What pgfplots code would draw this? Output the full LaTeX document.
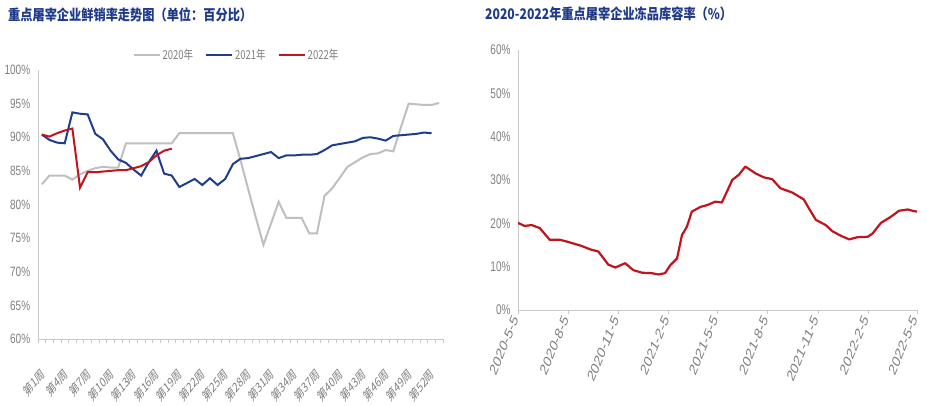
\documentclass[border=0pt]{standalone}
\usepackage{fontspec}
\setmainfont{Liberation Sans}
\newfontfamily\cjk{Noto Sans CJK SC}
\usepackage{pgfplots}
\pgfplotsset{compat=1.18}

\definecolor{titleblue}{RGB}{31,58,138}
\definecolor{c2020}{RGB}{191,191,191}
\definecolor{c2021}{RGB}{31,61,138}
\definecolor{c2022}{RGB}{192,20,30}
\definecolor{ticktext}{RGB}{128,128,128}
\definecolor{axisgray}{RGB}{200,200,200}

% fresh-sale rate by week
\pgfplotstableread{
w v
1 83.0
2 84.3
3 84.3
4 84.3
5 83.7
6 84.5
7 85.0
8 85.4
9 85.6
10 85.5
11 85.5
12 89.1
13 89.1
14 89.1
15 89.1
16 89.1
17 89.1
18 89.1
19 90.6
20 90.6
21 90.6
22 90.6
23 90.6
24 90.6
25 90.6
26 90.6
27 86.6
28 82.3
29 78.1
30 74.0
31 77.2
32 80.4
33 78.0
34 78.0
35 78.0
36 75.7
37 75.7
38 81.3
39 82.4
40 84.0
41 85.6
42 86.3
43 87.0
44 87.5
45 87.6
46 88.1
47 87.9
48 91.5
49 95.0
50 94.9
51 94.8
52 94.8
53 95.1
}\yrtwenty

\pgfplotstableread{
w v
1 90.4
2 89.6
3 89.2
4 89.1
5 93.7
6 93.5
7 93.4
8 90.5
9 89.7
10 88.0
11 86.7
12 86.2
13 85.2
14 84.3
15 86.3
16 88.0
17 84.6
18 84.3
19 82.6
20 83.2
21 83.8
22 82.9
23 83.9
24 82.9
25 83.8
26 86.0
27 86.8
28 86.9
29 87.2
30 87.5
31 87.8
32 86.9
33 87.3
34 87.3
35 87.4
36 87.4
37 87.5
38 88.1
39 88.8
40 89.0
41 89.2
42 89.4
43 89.9
44 90.0
45 89.8
46 89.5
47 90.2
48 90.3
49 90.4
50 90.5
51 90.7
52 90.6
}\yrtwentyone

\pgfplotstableread{
w v
1 90.4
2 90.1
3 90.6
4 91.0
5 91.3
6 82.5
7 84.8
8 84.8
9 84.9
10 85.0
11 85.1
12 85.1
13 85.4
14 85.7
15 86.3
16 87.3
17 88.0
18 88.3
}\yrtwentytwo

% frozen storage rate, days since 2020-5-5
\pgfplotstableread{
d v
0 20.1
12 19.4
25 19.6
40 18.9
58 16.2
77 16.2
92 15.7
116 14.8
132 14.0
147 13.5
165 10.5
178 9.8
196 10.8
211 9.2
227 8.6
245 8.5
257 8.2
269 8.5
279 10.4
291 11.9
300 17.3
309 19.2
318 22.7
334 23.8
346 24.2
361 25.0
373 24.8
392 30.0
404 31.2
416 33.1
435 31.5
450 30.6
465 30.2
480 28.1
502 27.1
523 25.5
532 23.5
545 20.8
563 19.6
575 18.2
591 17.1
606 16.3
621 16.8
640 16.9
649 17.7
664 20.1
682 21.5
697 22.9
713 23.2
722 22.9
730 22.7
}\frozen

\begin{document}
\begin{tikzpicture}[x=1pt,y=1pt]
\useasboundingbox (0,0) rectangle (927,405);
\fill[white] (0,0) rectangle (927,405);

\node[anchor=west,inner sep=0,yscale=1.2,text=titleblue,font=\cjk\bfseries\fontsize{12.2}{14}\selectfont] at (8,390) {重点屠宰企业鲜销率走势图（单位：百分比）};
\node[anchor=west,inner sep=0,yscale=1.2,text=titleblue,font=\cjk\bfseries\fontsize{12.2}{14}\selectfont] at (485,391) {2020-2022年重点屠宰企业冻品库容率（\%）};

\begin{axis}[
  at={(38pt,66pt)}, anchor=south west,
  scale only axis, width=405pt, height=269pt,
  xmin=0.5, xmax=53.5, ymin=60, ymax=100,
  axis x line*=bottom, axis y line*=left,
  axis line style={draw=axisgray, line width=0.8pt},
  ytick={60,65,...,100},
  yticklabel={\pgfmathprintnumber{\tick}\%},
  /pgf/number format/assume math mode=true,
  y tick label style={text=ticktext, font=\fontsize{10}{12}\selectfont, yscale=1.35},
  ytick style={draw=none},
  xtick={1,4,...,52},
  xticklabels={第1周,第4周,第7周,第10周,第13周,第16周,第19周,第22周,第25周,第28周,第31周,第34周,第37周,第40周,第43周,第46周,第49周,第52周},
  x tick label style={text=ticktext, font=\cjk\fontsize{9.5}{11}\selectfont, yshift=-27pt, xshift=2pt, yscale=1.4, rotate=42, anchor=east, inner sep=1pt},
  major x tick style={draw=none},
  minor xtick={0.5,1.5,...,53.5},
  minor x tick style={draw=axisgray, line width=0.8pt},
  minor tick length=4pt, tick align=outside,
  legend columns=3,
  legend style={at={(axis description cs:0.49,1.056)}, anchor=center, draw=none, fill=none,
    font=\cjk\fontsize{9.5}{12}\selectfont, text=ticktext,
    nodes={yscale=1.3},
    /tikz/every even column/.append style={column sep=10pt}},
  legend image code/.code={\draw[#1] (0pt,0pt) -- (26pt,0pt);},
]
\addplot[c2020, line width=2pt] table[x=w,y=v] {\yrtwenty};
\addlegendentry{2020年}
\addplot[c2021, line width=2pt] table[x=w,y=v] {\yrtwentyone};
\addlegendentry{2021年}
\addplot[c2022, line width=2pt] table[x=w,y=v] {\yrtwentytwo};
\addlegendentry{2022年}
\end{axis}

\begin{axis}[
  at={(518pt,95pt)}, anchor=south west,
  scale only axis, width=399pt, height=260pt,
  xmin=0, xmax=730, ymin=0, ymax=60,
  axis x line*=bottom, axis y line*=left,
  axis line style={draw=axisgray, line width=0.8pt},
  ytick={0,10,...,60},
  yticklabel={\pgfmathprintnumber{\tick}\%},
  /pgf/number format/assume math mode=true,
  y tick label style={text=ticktext, font=\fontsize{10}{12}\selectfont, yscale=1.4},
  ytick style={draw=none},
  xtick={0,92,184,276,365,457,549,641,730},
  xticklabels={2020-5-5,2020-8-5,2020-11-5,2021-2-5,2021-5-5,2021-8-5,2021-11-5,2022-2-5,2022-5-5},
  x tick label style={text=ticktext, font=\fontsize{11.5}{12}\selectfont, yshift=-2pt, xshift=-2pt, yscale=1.4, rotate=60, anchor=east, inner sep=1pt},
  major x tick style={draw=axisgray, line width=0.8pt},
  major tick length=4pt, tick align=outside,
]
\addplot[c2022, line width=2.2pt, line join=round] table[x=d,y=v] {\frozen};
\end{axis}
\end{tikzpicture}
\end{document}
